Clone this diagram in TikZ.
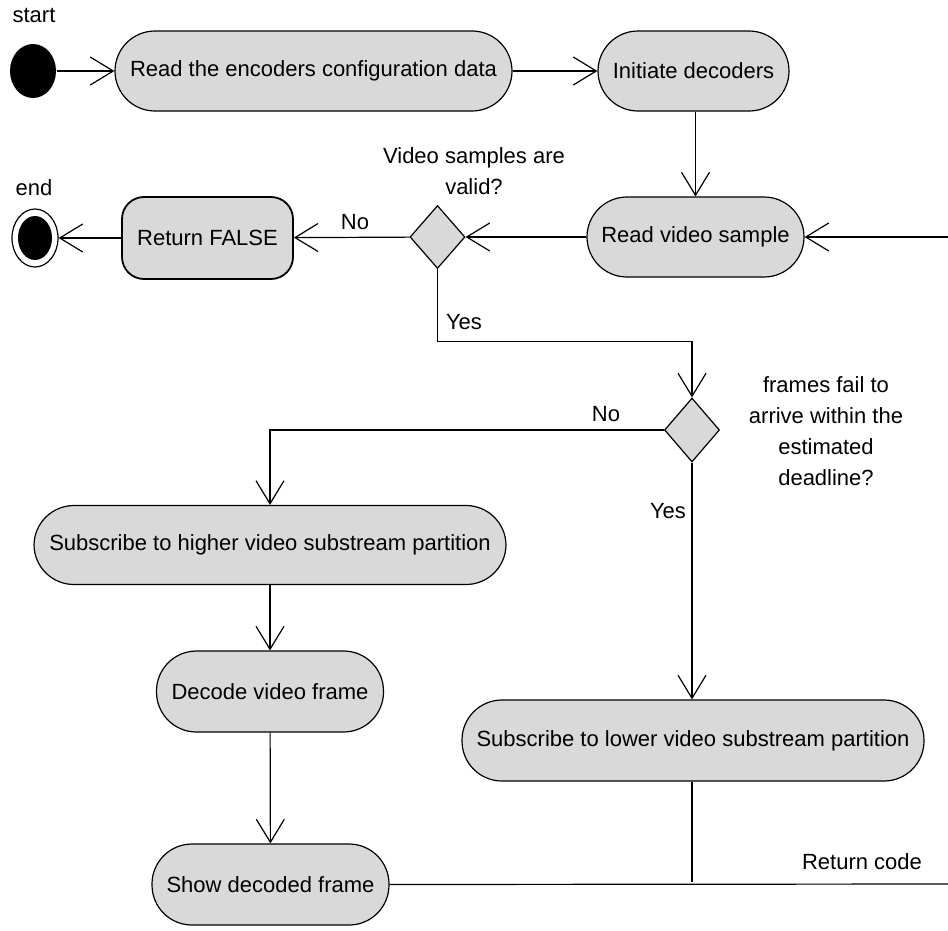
\documentclass[tikz,border=0pt]{standalone}
\usepackage{fontspec}
\setmainfont{Liberation Sans}
\usetikzlibrary{arrows.meta,shapes.geometric,calc}
\definecolor{actfill}{HTML}{D9D9D9}

\begin{document}
\begin{tikzpicture}[x=1pt,y=-1pt,line width=1.2pt,
  every node/.style={font=\fontsize{22}{31}\selectfont},
  action/.style={draw,fill=actfill,rounded corners=40pt,minimum height=80pt,inner sep=0pt,align=center},
  decision/.style={draw,fill=actfill,diamond,minimum width=55pt,minimum height=63pt,inner sep=0pt},
  flow/.style={-{Straight Barb[length=23pt,width=28pt,line width=1.2pt]}},
  lbl/.style={inner sep=0pt,align=center}]
\useasboundingbox (0,0) rectangle (948,930);

% initial and final states
\node[ellipse,fill=black,minimum width=46pt,minimum height=54pt,inner sep=0pt] (start) at (33,71) {};
\node[lbl] (startlbl) at (34,15) {start};
\node[ellipse,draw,fill=white,minimum width=46pt,minimum height=58pt,inner sep=0pt] (endnode) at (35,238) {};
\node[ellipse,fill=black,minimum width=34pt,minimum height=44pt,inner sep=0pt] (endcore) at (35,238) {};
\node[lbl] (endlbl) at (34,188) {end};

% actions
\node[action,minimum width=397pt] (readcfg) at (313.5,71) {Read the encoders configuration data};
\node[action,minimum width=191pt] (initdec) at (693.5,71) {Initiate decoders};
\node[action,minimum width=217pt] (readvid) at (695.5,237) {Read video sample};
\node[action,minimum width=171pt,minimum height=82pt,rounded corners=22pt,line width=1.8pt] (retfalse) at (207.5,238) {Return FALSE};
\node[action,minimum width=472pt,minimum height=79pt] (higher) at (270,545) {Subscribe to higher video substream partition};
\node[action,minimum width=227pt,minimum height=81pt] (decode) at (270,691.5) {Decode video frame};
\node[action,minimum width=462pt,minimum height=81pt] (lower) at (693,740.5) {Subscribe to lower video substream partition};
\node[action,minimum width=237pt,minimum height=81pt] (show) at (270.5,884.5) {Show decoded frame};

% decisions
\node[decision] (dec1) at (437.5,237) {};
\node[lbl] (dec1q) at (474,171) {Video samples are\\valid?};
\node[decision,minimum height=64pt] (dec2) at (692,430) {};
\node[lbl] (dec2q) at (826,431) {frames fail to\\arrive within the\\estimated\\deadline?};

% free ends of the return loop
\coordinate (loopin) at (948,237);
\coordinate (retout) at (948,884);

% control flow
\draw[flow] (start) -- (readcfg);
\draw[flow] (readcfg) -- (initdec);
\draw[flow] (initdec.south -| readvid.north) -- (readvid.north);
\draw[flow] (loopin) -- (readvid);
\draw[flow] (readvid) -- (dec1);
\draw[flow] (dec1) -- (retfalse);
\node[lbl] (nolbl1) at (355,222) {No};
\draw[flow] (retfalse) -- (endnode);
\draw[flow] (dec1.south) -- ++(0,72) -| (dec2.north);
\node[lbl] (yeslbl1) at (464,322) {Yes};
\draw[flow] (dec2.west) -| (higher.north);
\node[lbl] (nolbl2) at (606,414) {No};
\draw[flow] (dec2.south) -- (dec2.south |- lower.north);
\node[lbl] (yeslbl2) at (668,511) {Yes};
\draw[flow] (higher) -- (decode);
\draw[flow] (decode) -- (show);
\draw (lower.south -| dec2.south) -- ++(0,100);
\draw (show.east) -- (retout);
\node[lbl] (retlbl) at (862,862) {Return code};
\end{tikzpicture}
\end{document}
